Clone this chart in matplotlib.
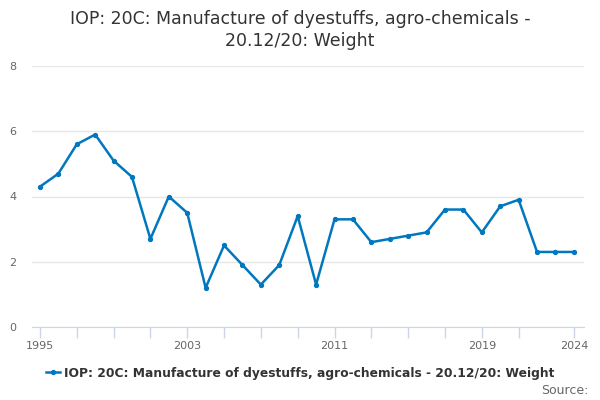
import matplotlib
matplotlib.use("Agg")
import matplotlib.pyplot as plt

# Data
years = list(range(1995, 2025))
weight = [4.3, 4.7, 5.6, 5.9, 5.1, 4.6, 2.7, 4.0, 3.5, 1.2,
          2.5, 1.9, 1.3, 1.9, 3.4, 1.3, 3.3, 3.3, 2.6, 2.7,
          2.8, 2.9, 3.6, 3.6, 2.9, 3.7, 3.9, 2.3, 2.3, 2.3]
series_name = "IOP: 20C: Manufacture of dyestuffs, agro-chemicals - 20.12/20: Weight"
title = "IOP: 20C: Manufacture of dyestuffs, agro-chemicals -\n20.12/20: Weight"
tick_years = [1995, 1997, 1999, 2001, 2003, 2005, 2007, 2009, 2011, 2013,
              2015, 2017, 2019, 2021, 2024]
label_years = [1995, 2003, 2011, 2019, 2024]

line_color = "#0077be"

fig = plt.figure(figsize=(6, 4), dpi=100)
ax = fig.add_axes([32 / 600, 73 / 400, 552 / 600, 261 / 400])

ax.plot(years, weight, color=line_color, linewidth=1.8, marker="o", markersize=2.8,
        label=series_name)

ax.set_xlim(1994.57, 2024.55)
ax.set_ylim(0, 8)
ax.set_yticks([0, 2, 4, 6, 8])
ax.set_xticks(tick_years)
ax.set_xticklabels([str(y) if y in label_years else "" for y in tick_years])

ax.grid(axis="y", color="#e6e6e6", linewidth=1)
ax.set_axisbelow(True)
for side in ["top", "right", "left"]:
    ax.spines[side].set_visible(False)
ax.spines["bottom"].set_color("#ccd6eb")
ax.tick_params(axis="x", colors="#ccd6eb", labelcolor="#666666", labelsize=8,
               length=8, width=1, pad=2)
ax.tick_params(axis="y", length=0, labelcolor="#666666", labelsize=8, pad=11)

fig.suptitle(title, fontsize=12.5, color="#333333", y=0.975, linespacing=1.25)

leg = fig.legend(loc="center", bbox_to_anchor=(0.5, 1 - 373 / 400), frameon=False,
                 handlelength=1.2, handletextpad=0.3,
                 prop={"weight": "bold", "size": 8.8})
for t in leg.get_texts():
    t.set_color("#333333")

fig.text(588 / 600, 1 - 390 / 400, "Source:", ha="right", va="center",
         fontsize=9, color="#666666")

fig.savefig("out.png", dpi=100)
